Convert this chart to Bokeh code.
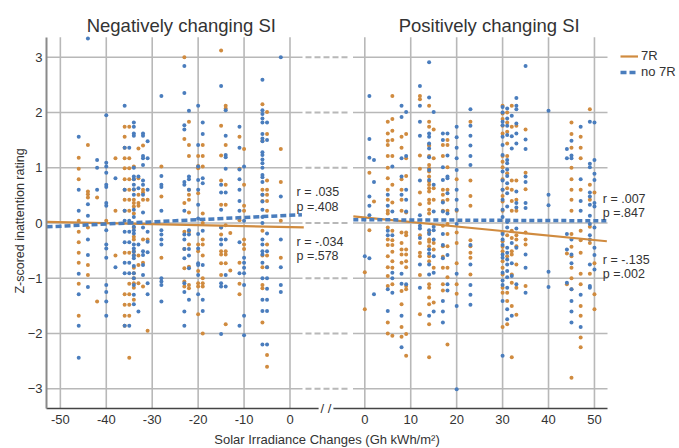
import math
from bokeh.plotting import figure
from bokeh.models import (Range1d, FixedTicker, Label, Legend, LegendItem)
from bokeh.embed import file_html
from bokeh.resources import INLINE

# ---------------- data ----------------
neg_7r = {
    -46: [1.18, 0.98, 0.79, 0.04, -0.16, -0.35, -0.54, -0.72, -1.10, -1.68],
    -44: [1.41, 0.57, 0.52, 0.46, -0.08, -0.76, -0.94],
    -42: [0.46, -1.42],
    -40: [0.04],
    -38: [1.17, 0.22, -0.59],
    -36: [1.74, 1.56, 1.36, 1.17, 0.99, 0.79, 0.60, 0.42, 0.22, -0.54, -1.29, -1.48, -1.68, -1.86],
    -35: [1.74, 1.17, 0.99, 0.79, 0.60, 0.42, 0.22, -0.54, -1.10, -1.29, -1.48, -1.68, -2.44],
    -34: [1.02, 0.79, 0.60, 0.42, 0.36, 0.30, 0.17, -0.08, -0.25, -0.30, -0.51, -0.58, -0.81, -0.91, -1.00, -1.09, -1.17, -1.39],
    -33: [1.35, 0.81, 0.51, 0.36, 0.31, -0.59, -0.76, -1.09],
    -32: [1.40, 0.60, 0.55, 0.42, -0.30, -0.72, -1.15],
    -31: [0.42, -0.30, -1.95],
    -28: [1.02, 0.48, -0.63],
    -23: [3.00, 1.52, 0.36, -0.16, -0.47, -0.82, -1.06, -1.15],
    -22: [1.83, 1.41, 1.21, 0.60, 0.51, 0.42, 0.19, -0.16, -0.39, -0.79, -1.12, -1.18],
    -20: [1.21, 1.03, 0.99, 0.54, -0.39, -0.51, -0.87, -1.09, -1.15, -1.65],
    -19: [1.41, 1.21, 1.02, 0.17, 0.00, -0.30, -0.39, -0.59, -1.00, -1.09, -1.15, -2.00],
    -15: [3.12, 1.76, 1.22, 0.77, 0.33, -0.08, -0.21, -0.51, -0.57, -0.73, -0.94],
    -14: [2.12, 2.07, 1.41, 0.69, 0.33, -0.04, -0.51, -0.57, -0.73, -1.83],
    -13: [-0.18, -0.86],
    -11: [1.56, 0.98, 0.05, -0.72, -1.10, -1.29],
    -10: [1.34, 0.69, 0.31, 0.22, -0.30, -0.39, -0.47],
    -6: [2.15, 1.49, 0.60, 0.51, 0.40, -0.14, -0.59, -0.80, -1.12, -1.18, -1.80],
    -5: [2.01, 1.61, 0.77, 0.60, 0.51, 0.40, 0.22, -0.39, -0.59, -0.80, -2.39, -2.60],
    -2: [1.34, 0.74, 0.04, -0.63],
}

neg_no7r = {
    -46: [1.56, 0.60, 0.22, -0.92, -1.29, -1.86, -2.44],
    -44: [3.34, 0.34, 0.13, -0.30, -0.58, -1.16],
    -42: [1.14, 1.00, 0.60],
    -40: [1.95, 1.09, 1.02, 0.91, 0.69, 0.65, 0.36, 0.31, -0.13, -0.39, -0.46, -0.63, -1.12, -1.25, -1.42, -1.68],
    -38: [0.81, -0.80],
    -36: [2.12, 1.36, 0.60, 0.22, 0.04, -0.16, -0.35, -0.72, -0.91, -1.86],
    -35: [1.36, 0.04, -0.16, -0.35, -0.72, -0.91, -1.86],
    -34: [1.82, 1.74, 1.62, 1.58, 1.00, 0.84, 0.79, 0.69, 0.61, 0.51, 0.24, 0.11, -0.07, -0.13, -0.19,
          -0.39, -0.46, -0.52, -0.59, -0.64, -0.78, -0.91, -1.00, -1.12, -1.30, -1.47],
    -33: [0.84, 0.63, -0.39, -1.60],
    -32: [1.62, 1.58, 1.21, 1.17, 1.05, 0.77, 0.69, 0.51, 0.19, -0.08, -0.51, -0.58, -0.76, -0.94],
    -31: [1.48, 1.17, 0.60, -0.16, -0.34, -0.53, -1.09, -1.29],
    -28: [2.30, 0.85, 0.69, 0.65, 0.22, -0.13, -0.21, -0.30, -0.39, -1.00, -1.06, -1.12, -1.42],
    -23: [2.84, 2.35, 1.77, 1.69, 0.74, 0.69, 0.22, -0.21, -0.30, -0.47, -0.64, -1.09, -1.25, -1.60, -1.86],
    -22: [2.03, 0.84, 0.79, 0.60, -0.13, -0.21, -0.47, -0.59, -0.82, -1.39],
    -20: [2.12, 1.41, 1.02, 0.78, 0.60, 0.33, 0.08, -0.20, -0.46, -0.73, -0.76, -0.94, -1.29],
    -19: [1.82, 1.61, 0.81, 0.72, -0.14, -0.76, -1.39, -1.59],
    -15: [2.48, 0.69, 0.55, 0.24, -0.08, -0.30, -0.39, -1.09, -1.15, -2.01],
    -14: [2.04, 1.58, 1.23, 1.19, 0.98, 0.55, -0.30, -0.94, -1.15],
    -11: [1.74, 1.36, 0.97, 0.79, 0.60, 0.40, 0.22, -0.35, -0.91, -1.86],
    -10: [1.02, 0.04, -0.63, -0.72, -0.81, -0.91, -1.12, -1.68, -2.03],
    -6: [2.59, 2.04, 1.97, 1.89, 1.82, 1.61, 1.53, 1.48, 1.28, 1.23, 1.15, 1.08, 1.00, 0.87, 0.83, 0.74,
         0.51, 0.39, 0.24, 0.11, 0.00, -0.30, -0.39, -0.51, -0.57, -0.72, -1.00, -1.39, -1.59, -2.20],
    -5: [1.82, 1.50, -0.19, -0.51, -0.80, -1.00, -1.19, -1.39, -1.59, -2.20],
    -2: [3.00, 0.48, -0.30, -0.80, -1.12, -1.25],
}

pos_7r = {
    0: [-0.89, -1.56],
    1: [0.91, -0.13],
    2: [0.39],
    5: [1.83, 1.62, 1.49, 1.41, 1.21, 1.00, 0.81, 0.60, 0.42, 0.22, 0.17, -0.08, -0.30, -0.40, -0.60,
        -0.80, -0.96, -1.14, -1.80, -2.00],
    6: [2.30, 1.88, 1.67, 1.50, 1.21, 0.69, 0.37, -0.14, -0.31, -0.40, -0.52, -0.69, -0.81, -1.11, -2.04],
    8: [1.56, 1.36, 0.79, 0.60, 0.42, 0.22, -0.17, -0.36, -0.48, -0.57, -0.72, -1.23, -1.47, -1.88, -2.06],
    9: [1.61, 1.17, 0.85, 0.19, -0.17, -0.22, -0.48, -0.57, -0.69, -0.80, -1.14, -1.20, -2.01, -2.40],
    12: [2.30, 2.24, 1.22, 0.98, 0.55, 0.34, -0.22, -0.36, -0.54, -0.60, -0.94, -1.65],
    14: [2.12, 1.83, 1.74, 1.41, 1.40, 1.21, 1.05, 0.99, 0.93, 0.84, 0.75, 0.69, 0.63, 0.57, 0.42, 0.36,
         0.24, 0.17, -0.17, -0.30, -0.34, -0.42, -0.60, -0.69, -1.11, -1.17, -1.35, -1.47, -1.83, -2.43],
    15: [1.69, 1.17, 0.63, 0.42, -0.36, -0.48, -0.81, -1.44],
    17: [1.41, 1.21, 0.60, 0.51, 0.40, 0.22, -0.05, -0.42, -0.61, -0.81, -1.11, -1.22],
    18: [1.50, 1.41, 1.01, 0.60, 0.42, 0.22, -0.02, -0.20, -0.42, -0.81, -0.98, -2.20],
    20: [0.79, 0.22, -0.17, -0.36, -0.73, -1.11, -1.28],
    23: [1.83, 0.77, 0.49, 0.31, -0.31, -0.42, -0.54, -0.63, -0.93],
    30: [2.12, 1.98, 1.88, 1.76, 1.62, 1.21, 1.11, 1.01, 0.79, 0.60, 0.49, 0.39, 0.22, -0.17, -0.33,
         -0.43, -0.51, -0.69, -0.81, -0.93, -1.17, -1.26, -1.88],
    31: [2.00, 1.82, 1.65, 1.44, 1.21, 0.90, 0.63, -0.22, -0.60, -1.26, -1.41, -1.83],
    32: [2.12, 1.74, 0.77, 0.60, 0.40, 0.22, -0.14, -0.27, -0.51, -0.57, -0.93, -1.08, -1.50, -2.43],
    33: [1.76, 0.77, 0.42, 0.22, -0.22, -0.30, -0.42, -0.75, -1.17, -1.66],
    35: [1.69, 0.91, 0.61, -0.17, -0.30, -0.39, -1.14],
    44: [-0.55, -1.11],
    45: [1.82, 1.61, 1.36, 1.00, 0.79, 0.60, 0.42, 0.22, -0.20, -0.43, -0.60, -0.81, -1.00, -1.20, -2.80],
    47: [1.56, 1.36, 1.17, 0.60, -0.14, -0.31, -0.54, -0.92, -1.11, -1.50, -1.68, -2.07, -2.25],
    49: [2.06, 0.69, 0.42, -0.07, -0.36, -0.92],
    50: [0.55, -0.73, -1.29, -1.56],
}

pos_no7r = {
    0: [-0.60],
    1: [2.30, 1.52, 1.18, 0.48, 0.31, 0.14, -0.64],
    2: [1.14, 0.74, -1.29],
    5: [0.51, 0.31, -0.14, -0.22, -1.20, -1.59],
    6: [1.02, 0.21, -0.22, -0.90, -1.00, -1.26],
    8: [2.12, 1.92, 1.17, 0.84, 0.51, -0.92, -1.10, -1.68, -2.25],
    9: [2.01, 1.21, 0.60, 0.42, 0.21, -1.11],
    12: [2.48, 2.12, 1.83, 1.58, 0.77, 0.14, -0.05, -0.10, -0.27, -0.75, -1.17],
    14: [2.91, 2.27, 1.62, 1.56, 1.44, 1.35, 1.19, 0.96, 0.78, -0.13, -0.20, -0.48, -0.55, -0.75, -0.93, -1.68],
    15: [2.01, 0.69, 0.21, -0.07, -0.13, -0.30, -0.60, -0.90, -1.60],
    17: [1.62, 1.50, 1.01, 0.78, 0.37, 0.21, -0.20, -0.40, -0.64, -1.41, -1.60, -1.80],
    18: [1.62, 1.22, 0.84, 0.81, 0.54, 0.17, -0.58, -1.11, -1.22],
    20: [1.74, 1.55, 1.36, 1.17, 0.96, 0.60, 0.42, 0.24, -0.02, -0.92, -1.50, -3.01],
    23: [2.06, 1.76, 1.58, 1.40, 1.21, 1.05, -0.40, -0.75, -1.12, -1.30, -1.48],
    30: [2.10, 2.00, 1.83, 1.77, 1.56, 1.41, 1.23, 0.93, 0.77, 0.60, 0.42, 0.24, 0.11, -0.20, -0.30,
         -0.40, -0.57, -0.63, -0.90, -1.04, -1.12, -1.41, -2.40],
    31: [2.07, 1.89, 1.76, 1.59, 1.14, 1.08, 0.97, 0.85, 0.72, 0.54, 0.30, 0.02, -0.08, -0.45, -0.54,
         -0.66, -0.75, -0.87, -0.98, -1.17, -1.56, -1.74],
    32: [1.94, 1.57, 1.35, -0.36, -0.73, -0.96, -1.68],
    33: [2.26, 2.12, 2.06, 1.80, 1.62, 1.44, 0.57, 0.36, 0.28, -0.10, -0.45, -1.11],
    35: [2.84, 1.51, 1.34, 0.84, 0.74, 0.36, 0.27, -0.57, -0.81, -1.26],
    40: [2.03, 0.51, 0.32, -0.88, -1.16],
    44: [1.34, 1.17, -0.20, -0.48, -1.08],
    45: [1.49, 1.22, 1.17, -0.30, -0.57, -0.73, -1.20, -1.41, -1.60, -1.80],
    47: [1.74, 0.79, 0.40, 0.22, -1.30, -1.88],
    49: [1.83, 1.07, 1.01, 0.55, 0.48, 0.33, 0.13, -0.02, -0.22, -0.30, -0.75, -1.14, -1.17],
    50: [1.82, 1.14, 0.89, 0.78, 0.36, 0.30, -0.08, -0.45, -0.58, -0.84],
}

# regression lines (end points)
neg_fit_7r_x = [-53.0, 3.0]
neg_fit_7r_y = [0.02, -0.08]
neg_fit_no7r_x = [-53.0, 2.6]
neg_fit_no7r_y = [-0.07, 0.15]
pos_fit_x = [-2.5, 52.7]
pos_fit_7r_y = [0.12, -0.33]
pos_fit_no7r_y = [0.06, 0.04]

neg_ticks = [-50, -40, -30, -20, -10, 0]
pos_ticks = [0, 10, 20, 30, 40, 50]
y_ticks = [-3, -2, -1, 0, 1, 2, 3]

neg_stats = [("r = .035", "p =.408"), ("r = -.034", "p =.578")]
pos_stats = [("r = .007", "p =.847"), ("r = -.135", "p =.002")]

titles = ["Negatively changing SI", "Positively changing SI"]
x_title = "Solar Irradiance Changes (Gh kWh/m\u00b2)"
y_title = "Z-scored inattention rating"
legend_labels = ["7R", "no 7R"]


def flatten(cols):
    xs, ys = [], []
    for x, vals in cols.items():
        for v in vals:
            xs.append(x)
            ys.append(v)
    return xs, ys


# ---------------- styling / layout ----------------
ORANGE = "#D08B3F"
BLUE = "#4A7DBD"
GRID = "#B8B8B8"
TEXT = "#333333"
FONT = "Liberation Sans"

W, H = 679, 448
XS = 4.593                 # px per x unit
X_ZERO_PX = 289.5          # left-panel zero
OFFSET = (364.3 - X_ZERO_PX) / XS   # right panel shift on the shared scale
XA, XB = -X_ZERO_PX / XS, (W - X_ZERO_PX) / XS
YS = 55.27                 # px per y unit
Y_ZERO_PX = 222.5
YA, YB = -(H - Y_ZERO_PX) / YS, Y_ZERO_PX / YS

X_LO = (46 - X_ZERO_PX) / XS        # axis start (left frame edge)
X_HI = (607 - X_ZERO_PX) / XS       # axis end (right frame edge)
Y_LO = -(408.3 - Y_ZERO_PX) / YS
Y_HI = (Y_ZERO_PX - 36.7) / YS


def xpx(px):
    return (px - X_ZERO_PX) / XS


p = figure(output_backend="svg", toolbar_location=None, width=W, height=H,
           min_border=0, x_range=Range1d(XA, XB), y_range=Range1d(YA, YB))
p.extra_x_ranges = {"pos": Range1d(XA - OFFSET, XB - OFFSET)}
p.outline_line_color = None
p.background_fill_color = "white"
p.border_fill_color = "white"
p.xgrid.visible = False
p.ygrid.visible = False

# x axis (shared, with a break)
tick_pos = [float(t) for t in neg_ticks] + [t + OFFSET for t in pos_ticks]
tick_lab = [str(t) for t in neg_ticks] + [str(t) for t in pos_ticks]
xa = p.xaxis[0]
xa.fixed_location = Y_LO
xa.bounds = (X_LO, X_HI)
xa.ticker = FixedTicker(ticks=tick_pos)
xa.major_label_overrides = dict(zip(tick_pos, tick_lab))
xa.major_tick_out = 0
xa.major_tick_in = 0
xa.minor_tick_line_color = None
xa.axis_line_color = "#444444"
xa.axis_line_width = 1.3
xa.major_label_standoff = 6
xa.major_label_text_font = FONT
xa.major_label_text_font_size = "13px"
xa.major_label_text_color = TEXT

ya = p.yaxis[0]
ya.fixed_location = X_LO
ya.bounds = (Y_LO, Y_HI)
ya.ticker = FixedTicker(ticks=y_ticks)
ya.major_tick_out = 0
ya.major_tick_in = 0
ya.minor_tick_line_color = None
ya.axis_line_color = "#8A8A8A"
ya.axis_line_width = 2
ya.major_label_standoff = 4
ya.major_label_text_font = FONT
ya.major_label_text_font_size = "13px"
ya.major_label_text_color = TEXT

# vertical grid lines
p.segment(x0=neg_ticks, x1=neg_ticks, y0=[Y_LO] * 6, y1=[Y_HI] * 6, line_color=GRID, line_width=1.6)
p.segment(x0=pos_ticks, x1=pos_ticks, y0=[Y_LO] * 6, y1=[Y_HI] * 6, line_color=GRID, line_width=1.6,
          x_range_name="pos")
# horizontal grid lines: solid in each panel, dashed across the break
n = len(y_ticks)
p.segment(x0=[X_LO] * n, x1=[xpx(302)] * n, y0=y_ticks, y1=y_ticks, line_color=GRID, line_width=1.6)
p.segment(x0=[xpx(305)] * n, x1=[xpx(350)] * n, y0=y_ticks, y1=y_ticks, line_color=GRID, line_width=2,
          line_dash="6 3")
p.segment(x0=[xpx(352.5)] * n, x1=[X_HI] * n, y0=y_ticks, y1=y_ticks, line_color=GRID, line_width=1.6)

# scatter points
for cols, col, rng in [(neg_7r, ORANGE, "default"), (neg_no7r, BLUE, "default"),
                       (pos_7r, ORANGE, "pos"), (pos_no7r, BLUE, "pos")]:
    xs, ys = flatten(cols)
    p.scatter(xs, ys, size=4, color=col, line_color=None, x_range_name=rng)

# regression lines
r7 = p.line(neg_fit_7r_x, neg_fit_7r_y, line_color=ORANGE, line_width=2.2)
rn = p.line(neg_fit_no7r_x, neg_fit_no7r_y, line_color=BLUE, line_width=3.5, line_dash="6 3")
p.line(pos_fit_x, pos_fit_7r_y, line_color=ORANGE, line_width=2.2, x_range_name="pos")
p.line(pos_fit_x, pos_fit_no7r_y, line_color=BLUE, line_width=3.5, line_dash="5 3", x_range_name="pos")


def label(text, x, y, size, align="left", baseline="alphabetic", angle=0.0, **kw):
    p.add_layout(Label(x=x, y=y, x_units="screen", y_units="screen", text=text, angle=angle,
                       text_align=align, text_baseline=baseline, text_font=FONT,
                       text_font_size=size, text_color=TEXT, **kw))


# titles
label(titles[0], 180.8, H - 25, "18.5px", align="center")
label(titles[1], 488.7, H - 25, "18.5px", align="center")
# axis titles
label(x_title, 326.5, H - 439, "13px", align="center")
label(y_title, 19, H - 220.5, "12.5px", align="center", baseline="middle", angle=math.pi / 2)
# axis break mark
label("/ /", 325.5, H - 408.3, "13px", align="center", baseline="middle",
      background_fill_color="white", padding=2)

# correlation statistics
for (r_txt, p_txt), sx, (b1, b2) in [(neg_stats[0], 296, (191, 206)),
                                    (neg_stats[1], 296, (241, 255)),
                                    (pos_stats[0], 602.3, (198.5, 212.8)),
                                    (pos_stats[1], 602.3, (259.5, 273.8))]:
    label(r_txt, sx, H - b1, "12.5px")
    label(p_txt, sx, H - b2, "12.5px")

legend = Legend(items=[LegendItem(label=legend_labels[0], renderers=[r7]),
                       LegendItem(label=legend_labels[1], renderers=[rn])],
                location=(620, H - 79.7), margin=0, padding=4, spacing=0,
                glyph_width=18, glyph_height=16, label_height=16, label_standoff=3,
                label_text_font=FONT, label_text_font_size="13px", label_text_color=TEXT,
                border_line_color=None, background_fill_alpha=0)
p.add_layout(legend)

open("out.html", "w").write(file_html(p, INLINE))
